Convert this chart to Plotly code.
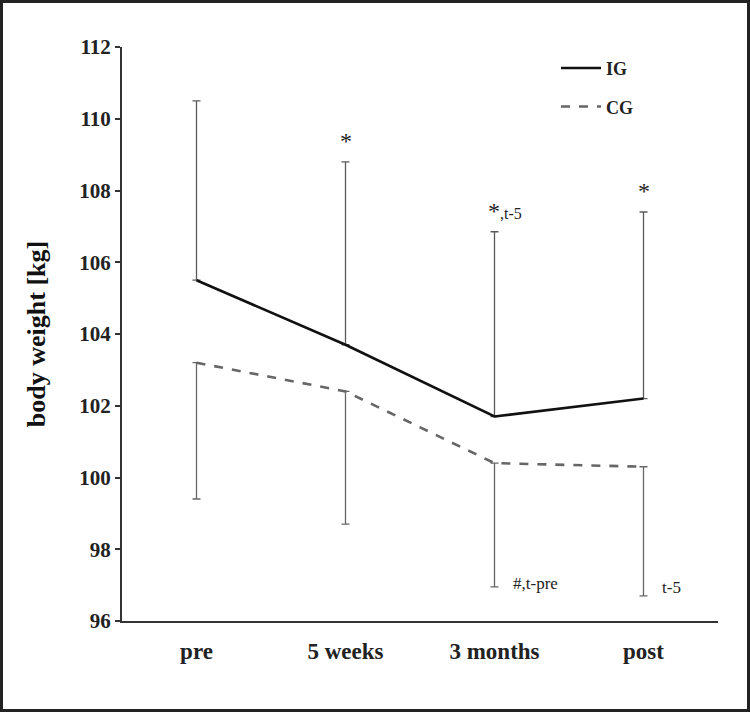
import plotly.graph_objects as go

categories = ["pre", "5 weeks", "3 months", "post"]
ig_mean = [105.5, 103.7, 101.7, 102.2]
ig_upper = [110.5, 108.8, 106.85, 107.4]
cg_mean = [103.2, 102.4, 100.4, 100.3]
cg_lower = [99.4, 98.7, 96.95, 96.7]
y_ticks = [96, 98, 100, 102, 104, 106, 108, 110, 112]

FONT = "Times New Roman, Liberation Serif, serif"
W, H = 750, 712
L, R, T, B = 122, 32, 47, 91
pw, ph = W - L - R, H - T - B

ig_err = [u - m for u, m in zip(ig_upper, ig_mean)]
cg_err = [m - l for m, l in zip(cg_mean, cg_lower)]

fig = go.Figure()
fig.add_trace(go.Scatter(
    x=categories, y=ig_mean, mode="lines", name="IG", legendgroup="ig",
    line=dict(color="#111111", width=2.6),
    error_y=dict(type="data", symmetric=False, array=ig_err, arrayminus=[0] * 4,
                 color="#5a5a5a", thickness=1.3, width=4),
))
fig.add_trace(go.Scatter(
    x=categories, y=cg_mean, mode="lines", name="CG", legendgroup="cg",
    line=dict(color="#666666", width=2.6, dash="dash"),
    error_y=dict(type="data", symmetric=False, array=[0] * 4, arrayminus=cg_err,
                 color="#666666", thickness=1.3, width=4),
))

# significance annotations
above = {1: "*", 2: "*<span style='font-size:16px'>,t-5</span>", 3: "*"}
for i, txt in above.items():
    fig.add_annotation(
        x=categories[i], y=ig_upper[i], text=txt, showarrow=False,
        xanchor="center" if i != 2 else "left", xshift=0 if i != 2 else -9,
        yanchor="bottom", yshift=6,
        font=dict(family=FONT, size=24, color="#222222"),
    )
below = {2: "#,t-pre", 3: "t-5"}
for i, txt in below.items():
    fig.add_annotation(
        x=categories[i], y=cg_lower[i], text=txt, showarrow=False,
        xanchor="left", xshift=16, yanchor="bottom", yshift=-8 if i == 2 else -3,
        font=dict(family=FONT, size=17, color="#222222"),
    )

# outer frame around the whole figure
fig.add_shape(
    type="rect", xref="paper", yref="paper",
    x0=(1.5 - L) / pw, x1=(W - 1.5 - L) / pw,
    y0=-(H - 1.5 - (T + ph)) / ph, y1=(T + ph - 1.5) / ph,
    line=dict(color="#222222", width=3), fillcolor="rgba(0,0,0,0)", layer="below",
)

fig.update_layout(
    width=W, height=H,
    margin=dict(l=L, r=R, t=T, b=B, pad=0),
    paper_bgcolor="white", plot_bgcolor="white",
    font=dict(family=FONT, color="#222222"),
    showlegend=True,
    legend=dict(
        x=(556 - L) / pw, y=0.995, xanchor="left", yanchor="top",
        bgcolor="rgba(0,0,0,0)", tracegroupgap=12, itemwidth=40,
        font=dict(family=FONT, size=18, color="#222222", weight=700),
    ),
    xaxis=dict(
        type="category", range=[-0.5, 3.5], showgrid=False, zeroline=False,
        showline=True, linecolor="#333333", linewidth=2, ticks="",
        tickfont=dict(family=FONT, size=23, color="#222222", weight=700),
        ticklabelstandoff=8,
    ),
    yaxis=dict(
        range=[96, 112], tickvals=y_ticks, showgrid=False, zeroline=False,
        showline=True, linecolor="#333333", linewidth=2,
        ticks="outside", ticklen=5, tickwidth=1.5, tickcolor="#333333",
        tickfont=dict(family=FONT, size=21, color="#222222", weight=700),
        title=dict(text="body weight [kg]", standoff=26,
                   font=dict(family=FONT, size=26, color="#111111", weight=700)),
    ),
)

fig.write_html("out.html", config={"displayModeBar": False},
               post_script="document.body.style.margin='0';")
